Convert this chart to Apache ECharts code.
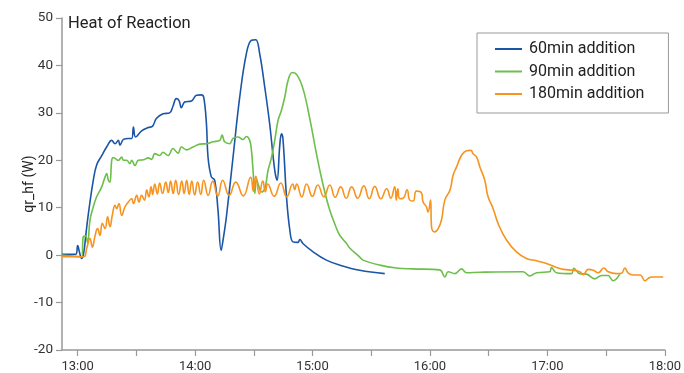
<!DOCTYPE html>
<html>
<head>
<meta charset="utf-8">
<script src="https://cdn.jsdelivr.net/npm/echarts@6/dist/echarts.min.js"></script>
<style>html,body{margin:0;padding:0;background:#fff}#c{width:684px;height:373px}</style>
</head>
<body>
<div id="c"></div>
<script>
// x values are minutes after midnight
const seriesNames = ['60min addition', '90min addition', '180min addition'];
const xTicks = [780, 810, 840, 870, 900, 930, 960, 990, 1020, 1050, 1080];
const xLabels = [780, 840, 900, 960, 1020, 1080];
const yTicks = [-20, -10, 0, 10, 20, 30, 40, 50];

const blue = [
[772,0.2],[779,0.2],[780,2.0],[781,0.5],[782,-0.7],[783.1,0.5],[784.1,4],[785.5,8.8],[788,15.8],[789.7,19],
[792.3,21],[794.8,22.8],[797.4,24.2],[799.1,23.5],[800.8,24.2],[801.6,23.2],[803.4,24.4],[805.9,24.6],[807.6,24.6],
[808.5,27],[809.6,24.9],[812.7,26.2],[816.1,26.9],[818.3,27.2],[820.2,28.8],[823.6,29.8],[827,30],[828.7,31.4],
[830.4,33],[831.8,32.6],[833,31.1],[834.7,32.3],[838.1,32.5],[840.7,33.7],[843.2,33.8],[844.4,33.3],[845.8,27.7],
[846.6,20.7],[848.3,16.5],[850,15.8],[851.7,9.5],[853.3,1.0],[854.6,4],[856,8.1],[859.4,20.7],[862.8,33.3],
[866.2,42.5],[868.8,45.3],[871,45.4],[873,42.5],[875.6,35.4],[878.1,27.7],[880.7,17.9],[881.9,15.8],[883.2,22.8],
[884.1,25.6],[884.9,24.5],[886.7,12.3],[888.4,5.3],[890,2.8],[892.6,2.7],[893.5,3.3],[895.2,2.4],[900.3,0.7],
[907.1,-1.05],[913.9,-2.1],[924.1,-3.2],[936.9,-3.9]
];

const green = [
[772,0],[782,-0.35],[782.9,3.9],[784.1,4],[785.1,2.5],[786.3,7.4],[788,10.2],[789.7,12.3],[792.3,14.4],[794,16.5],
[794.8,17.2],[795.7,15.8],[796.5,15.4],[797.4,20],[798.2,20.6],[799.1,20.4],[800.8,20],[802.5,20.7],[803.4,20],
[805,20],[806.7,19.3],[807.6,20],[809.3,18.9],[811,20],[813.6,20.1],[816.1,20.5],[817.8,20.2],[819.4,21.4],
[821.9,21],[823.6,21.7],[826.2,21],[828.7,22.5],[831.3,21.5],[833,22.8],[835.6,22.2],[838.9,22.8],[842.4,23.4],
[845.8,23.5],[849.2,23.9],[852.6,24.2],[853.8,25.3],[855.1,23.9],[857.7,23.5],[859.4,24.6],[861.9,24.9],
[864.5,24.4],[866.2,25],[867.9,24.2],[868.8,22.1],[869.6,17.9],[870.5,13],[871.3,16.1],[872.2,15],[873.9,13.3],
[875.6,14],[877.3,17.9],[879,20.5],[880.7,24.2],[882.4,28.4],[884.1,30.5],[885.8,33.3],[887.5,36.8],[889.6,38.5],
[892.2,37.9],[895.2,35],[898.6,28.8],[902,21.4],[905.4,14.8],[908.8,9.5],[912.2,5.7],[913.9,4.2],[917.3,2.5],
[919,1.5],[924.1,-0.4],[925.8,-1.05],[934.4,-2.1],[942.9,-2.7],[951.4,-2.9],[965,-3.1],[967.6,-4.6],[969.3,-3.5],
[972.7,-3.9],[976.1,-2.9],[978.7,-3.7],[985.5,-3.6],[1007.6,-3.5],[1011,-4.4],[1014.5,-3.7],[1021.2,-3.5],
[1022.1,-2.6],[1024.6,-3.7],[1032.3,-3.9],[1033.5,-2.8],[1036.6,-3.9],[1040,-4],[1044.2,-5],[1047.7,-4.3],
[1051,-4.3],[1053.6,-5.4],[1057,-4]
];

const orange = [
[772,-0.35],[783.1,-0.35],[784.6,1.4],[786.3,3.5],[787.5,1.7],[788.8,3.9],[790.2,5.6],[791.4,4.2],[792.6,6.7],
[794,5.6],[795.3,8.1],[796.5,6.0],[797.7,8.4],[799.1,10.5],[799.9,9.8],[801.1,10.9],[802.5,8.4],[804.2,10.2],
[805.9,11.2],[807.6,11.9],[808.5,10.9],[810.2,12.6],[811.3,11.2],[812.7,12.6],[814.1,11.6],[815.3,13.7],
[816.4,12.3],[817.5,14.4],[818.3,12.8],[819.4,15.0],[820.7,12.9],[821.9,15.2],[823.4,13.0],[825,15.4],
[826.3,13.2],[827.5,15.6],[828.8,13.0],[830.1,15.8],[831.6,12.8],[833.2,15.6],[834.4,13.0],[835.7,15.8],
[837,12.8],[838.3,15.6],[839.8,12.7],[841.3,15.4],[842.9,12.8],[844.4,15.8],[846.7,12.6],[849,15.6],[851.6,12.5],
[854.1,15.8],[857.4,12.6],[860.8,15.4],[864.6,12.5],[868.4,16.4],[869.7,13.5],[871,16.6],[872.8,12.9],[874.6,15.6],
[875.9,13.4],[877.1,15.0],[880.4,12.4],[883.8,15.2],[886.8,12.3],[889.9,15.0],[890.9,13.8],[891.9,15.0],
[894.5,12.3],[897,15.0],[899.9,12.4],[902.7,14.8],[905.8,12.3],[908.8,14.8],[911.6,12.2],[914.4,14.4],[917.2,12.0],
[920,14.4],[923.1,12.0],[926.2,14.6],[929,11.9],[931.8,14.5],[934.9,11.9],[937.9,14.0],[940,12.0],[942,14.4],
[942.8,11.6],[943.6,14.0],[944.6,11.9],[946.3,12.0],[948.3,13.8],[949.7,11.6],[951.4,11.4],[953.1,13.5],
[955.7,13.1],[956.5,11.2],[958.2,10.2],[959,9.1],[960.3,11.6],[960.8,6.0],[962.5,4.9],[964.2,5.6],[965.9,7.4],
[967.6,11.6],[970.2,13.7],[971.8,16.8],[973.6,18.6],[976.1,21.0],[978.7,22.0],[980.9,22.1],[982,21.4],[983.8,20.7],
[985.5,18.6],[988,15.8],[989.7,12.3],[992.3,9.8],[994.8,6.7],[999.1,3.2],[1004.2,0.7],[1009.3,-0.7],[1014.5,-1.2],
[1019.5,-1.75],[1024.7,-2.6],[1028.1,-3.0],[1033.2,-3.2],[1036.6,-3.5],[1038.3,-4.1],[1040.9,-3.0],[1043.4,-3.2],
[1046,-3.7],[1048.8,-2.7],[1051,-3.5],[1055.3,-3.9],[1057.9,-3.8],[1059.6,-2.7],[1061.3,-3.8],[1063.9,-4.2],
[1067.3,-4.2],[1069.9,-5.4],[1071.5,-4.9],[1073.3,-4.6],[1079.2,-4.6]
];

const colors = ['#1b55a6', '#6cbf4a', '#f7931e'];
const font = 'Roboto, "Noto Sans", sans-serif';
function hhmm(v) {
  const h = Math.floor(v / 60), m = Math.round(v - h * 60);
  return h + ':' + (m < 10 ? '0' : '') + m;
}

const chart = echarts.init(document.getElementById('c'), null, {renderer: 'canvas'});
chart.setOption({
  animation: false,
  backgroundColor: '#fff',
  color: colors,
  title: {
    text: 'Heat of Reaction', left: 68, top: 15, padding: 0,
    textStyle: {fontFamily: font, fontSize: 16.5, fontWeight: 'normal', color: '#222'}
  },
  legend: {
    orient: 'vertical', left: 477, top: 33,
    padding: [6, 24, 9, 18],
    borderColor: '#999', borderWidth: 1,
    icon: 'rect', itemWidth: 27, itemHeight: 2, itemGap: 2.5,
    textStyle: {fontFamily: font, fontSize: 16, color: '#222', lineHeight: 20, padding: [0, 0, 0, 2]},
    data: seriesNames
  },
  grid: {left: 62, right: 19, top: 18, bottom: 22, containLabel: false},
  xAxis: {
    type: 'value', min: 772, max: 1080,
    axisLine: {onZero: false, lineStyle: {color: '#999', width: 1.5}},
    axisTick: {show: true, length: 6, lineStyle: {color: '#999', width: 1.2}, customValues: xTicks},
    axisLabel: {customValues: xLabels, formatter: hhmm, margin: 10, fontFamily: font, fontSize: 13, color: '#333'},
    splitLine: {show: false}
  },
  yAxis: {
    type: 'value', min: -20, max: 50, interval: 10,
    name: 'qr_hf (W)', nameLocation: 'middle', nameRotate: 90, nameGap: 26, nameMoveOverlap: false,
    nameTextStyle: {fontFamily: font, fontSize: 14, color: '#222'},
    axisLine: {show: true, onZero: false, lineStyle: {color: '#999', width: 1.5}},
    axisTick: {show: true, length: 6, lineStyle: {color: '#999', width: 1.2}, customValues: yTicks},
    axisLabel: {customValues: yTicks, margin: 9, fontFamily: font, fontSize: 13.5, color: '#333'},
    splitLine: {show: false}
  },
  series: [
    {name: seriesNames[0], type: 'line', data: blue, showSymbol: false, smooth: 0.4, lineStyle: {width: 1.6, color: colors[0]}},
    {name: seriesNames[1], type: 'line', data: green, showSymbol: false, smooth: 0.4, lineStyle: {width: 1.6, color: colors[1]}},
    {name: seriesNames[2], type: 'line', data: orange, showSymbol: false, smooth: 0.5, lineStyle: {width: 1.6, color: colors[2]}}
  ]
});
</script>
</body>
</html>
